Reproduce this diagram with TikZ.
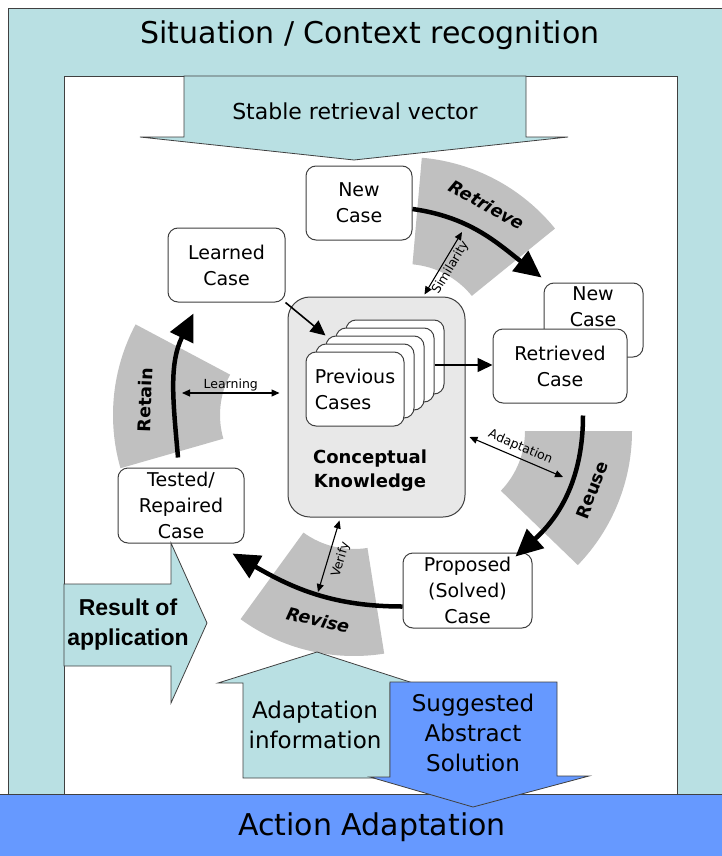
\documentclass[tikz,border=0pt]{standalone}
\usepackage{fontspec}
\setmainfont{DejaVu Sans}
\newfontfamily\arialfont{Liberation Sans}
\usetikzlibrary{arrows.meta}
\definecolor{cbcyan}{HTML}{B9E0E3}
\definecolor{cbblue}{HTML}{6699FF}
\definecolor{cbgray}{HTML}{C0C0C0}
\definecolor{cbknow}{HTML}{E8E8E8}
\definecolor{cbline}{HTML}{404040}
\begin{document}
\begin{tikzpicture}[x=1pt, y=1pt,
  box/.style={draw=cbline, fill=white, line width=1pt, rounded corners=10pt, align=center, inner sep=0pt, font=\fontsize{19}{26}\selectfont},
  card/.style={box, minimum width=98pt, minimum height=74pt},
  phase/.style={fill=cbgray},
  phaselabel/.style={font=\fontsize{17.5}{20}\selectfont\bfseries},
  cyc/.style={line width=4.5pt, arrows={-Triangle[length=27pt,width=25pt]}},
  ptr/.style={line width=1.6pt, arrows={-Triangle[length=15pt,width=14pt]}},
  link/.style={line width=1.1pt, arrows={Triangle[length=8pt,width=7pt]-Triangle[length=8pt,width=7pt]}},
  linklabel/.style={font=\fontsize{12.5}{14}\selectfont, inner sep=1pt},
  bigarrow/.style={draw=cbline, line width=0.8pt, fill=cbcyan},
  arrowtext/.style={align=center, font=\fontsize{23}{30}\selectfont}
]
\useasboundingbox (0,0) rectangle (721,-856);

\draw[draw=cbline, fill=cbcyan] (8,-8) rectangle (730,-794);
\node[font=\fontsize{30}{36}\selectfont] (title) at (370,-35) {Situation / Context recognition};
\draw[draw=cbline, fill=white] (64,-76) rectangle (677,-794);

\draw[bigarrow] (184,-76) -- (526,-76) -- (526,-137) -- (568,-137) -- (354,-160) -- (140,-137) -- (184,-137) -- cycle;
\node[font=\fontsize{22}{26}\selectfont] (stable) at (355,-111) {Stable retrieval vector};

% the four phases
\fill[phase, shift={(405,-350)}] (39:86) arc[start angle=39, end angle=85, radius=86] -- (85:193) arc[start angle=85, end angle=39, radius=193] -- cycle;
\fill[phase, shift={(439,-431)}] (-44:86) arc[start angle=-44, end angle=0, radius=86] -- (0:193) arc[start angle=0, end angle=-44, radius=193] -- cycle;
\fill[phase, shift={(354,-463)}] (234:86) arc[start angle=234, end angle=279, radius=86] -- (279:193) arc[start angle=279, end angle=234, radius=193] -- cycle;
\fill[phase, shift={(306,-415)}] (152:86) arc[start angle=152, end angle=196, radius=86] -- (196:193) arc[start angle=196, end angle=152, radius=193] -- cycle;

\node[phaselabel, rotate=-29] (retrieve) at (487,-205) {\itshape Retrieve};
\node[phaselabel, rotate=69] (reuse) at (592,-490) {Reuse};
\node[phaselabel, rotate=-13] (revise) at (318,-620) {\itshape Revise};
\node[phaselabel, rotate=88] (retain) at (145,-400) {Retain};

% knowledge base
\node[box, fill=cbknow, rounded corners=22pt, minimum width=177pt, minimum height=220pt] (ck) at (376.5,-407) {};
\node[font=\fontsize{18}{24}\selectfont\bfseries, align=center] (ckt) at (370,-471) {Conceptual\\Knowledge};
\node[card] (c5) at (395,-357) {};
\node[card] (c4) at (385,-365) {};
\node[card] (c3) at (375,-373) {};
\node[card] (c2) at (365,-381) {};
\node[card, align=left] (c1) at (355,-389) {Previous\\Cases};

% cases
\node[box, minimum width=106pt, minimum height=74pt] (newc) at (359,-203) {New\\Case};
\node[box, minimum width=117pt, minimum height=74pt] (learned) at (226.5,-265) {Learned\\Case};
\node[box, minimum width=99pt, minimum height=74pt] (newc2) at (593.5,-320) {};
\node[font=\fontsize{19}{26}\selectfont, align=center] (newc2t) at (593,-306.5) {New\\Case};
\node[box, minimum width=134pt, minimum height=74pt] (retr) at (560,-366) {Retrieved\\Case};
\node[box, minimum width=126pt, minimum height=75pt] (tested) at (181,-505.5) {Tested/\\Repaired\\Case};
\node[box, minimum width=129pt, minimum height=75pt] (prop) at (467.5,-590.5) {Proposed\\(Solved)\\Case};

\draw[cyc] ([yshift=-6pt]newc.east) to[out=-8, in=142] ([xshift=-2pt,yshift=5pt]newc2.north west);
\draw[cyc] ([xshift=23pt,yshift=-12pt]retr.south) to[out=-90, in=42] ([xshift=-17pt,yshift=-4pt]prop.north east);
\draw[cyc] ([yshift=-16pt]prop.west) to[out=180, in=-30] ([xshift=-12pt,yshift=-10pt]tested.south east);
\draw[cyc] ([xshift=-3pt,yshift=10pt]tested.north) to[out=95, in=244] ([xshift=-33pt,yshift=-11pt]learned.south);

\draw[ptr] (learned.south east) -- (c3.north west);
\draw[ptr] (c4.east) -- (c4.east -| retr.west);

\coordinate (simtop) at (462,-232);
\coordinate (learnL) at (182,-393);
\coordinate (adaptR) at (563,-477);
\coordinate (verifyB) at (318,-592);
\draw[link] ([xshift=48pt,yshift=2pt]ck.north) -- (simtop) node[linklabel, midway, sloped, below=1pt] {Similarity};
\draw[link] (learnL) -- ([xshift=-8pt,yshift=14pt]ck.west) node[linklabel, midway, above] {Learning};
\draw[link] ([xshift=4pt,yshift=-30pt]ck.east) -- (adaptR) node[linklabel, midway, sloped, above=3pt] {Adaptation};
\draw[link] ([xshift=-37pt,yshift=-3pt]ck.south) -- (verifyB) node[linklabel, midway, sloped, below=5pt] {Verify};

% inputs and outputs
\draw[bigarrow] (64,-584) -- (171,-584) -- (171,-543) -- (207,-623) -- (171,-703) -- (171,-666) -- (64,-666) -- cycle;
\node[align=center, font=\arialfont\bfseries\fontsize{23}{30}\selectfont] (result) at (128,-625) {Result of\\application};
\draw[bigarrow] (243,-778) -- (243,-683) -- (218,-683) -- (317,-652) -- (413,-683) -- (390,-683) -- (390,-778) -- cycle;
\node[arrowtext] (adinfo) at (315,-725) {Adaptation\\information};

\draw[draw=cbline, fill=cbblue] (-5,-794) rectangle (730,-860);
\node[font=\fontsize{30}{36}\selectfont] (action) at (372,-827) {Action Adaptation};
\draw[bigarrow, fill=cbblue] (390,-682) -- (557,-682) -- (557,-776) -- (589,-776) -- (473,-807) -- (370,-777) -- (390,-777) -- cycle;
\node[arrowtext] (sugg) at (473,-733) {Suggested\\Abstract\\Solution};

\end{tikzpicture}
\end{document}
